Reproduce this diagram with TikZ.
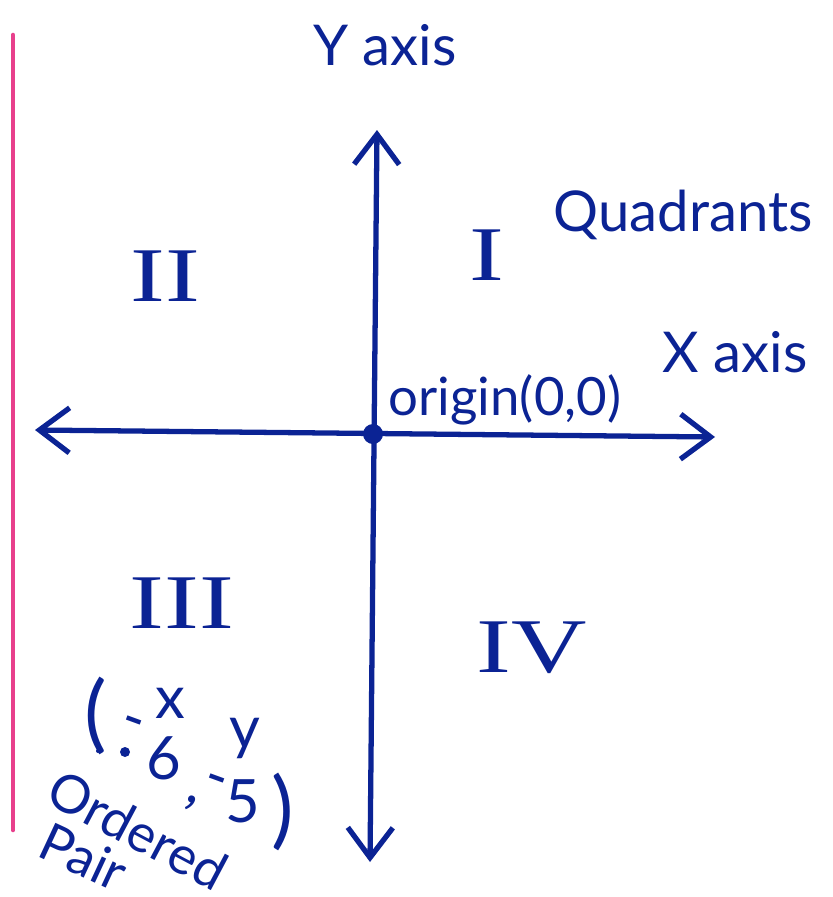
\documentclass[tikz,border=0pt]{standalone}
\usepackage{fontspec}
\setmainfont{Lato}
\setsansfont{Lato}
\newfontfamily\romanfont{Liberation Serif}
\usetikzlibrary{arrows.meta, positioning}
\definecolor{cink}{HTML}{0B2394}
\definecolor{cpink}{HTML}{E8408C}
\tikzset{
  every picture/.style={font=\sffamily, line width=1.5pt},
  ink/.style={text=cink, inner sep=1pt},
  hand/.style={ink, font=\sffamily\fontsize{16}{19}\selectfont},
  quad/.style={ink, xscale=1.35, font=\romanfont\fontsize{22}{26}\selectfont},
  pairtxt/.style={ink, inner sep=0pt, font=\sffamily\fontsize{17}{20}\selectfont},
  axis/.style={draw=cink, line cap=round,
    {Straight Barb[length=3mm, width=4.5mm]}-{Straight Barb[length=3mm, width=4.5mm]}},
}

\begin{document}
\begin{tikzpicture}[x=0.01cm, y=-0.01cm]
  \useasboundingbox (0,0) rectangle (832,897);
  % margin line
  \draw[cpink, line width=1.3pt, line cap=round] (13,35) -- (13,830);
  % axes
  \coordinate (xl) at (35,430);
  \coordinate (xr) at (715,437);
  \coordinate (yt) at (377,130);
  \coordinate (yb) at (370,862);
  \node[circle, fill=cink, minimum size=0.2cm, inner sep=0pt] (o) at (373,434) {};
  \draw[axis] (xl) -- (xr);
  \draw[axis] (yb) -- (yt);
  % labels
  \node[hand] (ylab) at (385,45) {Y axis};
  \node[hand] (xlab) at (735,352) {X axis};
  \node[hand] (quads) at (683,215) {Quadrants};
  \node[hand, font=\sffamily\fontsize{15}{18}\selectfont] (orig) at (505,400) {origin(0,0)};
  % quadrants
  \node[quad] (q1) at (487,255) {I};
  \node[quad] (q2) at (165,276) {II};
  \node[quad] (q3) at (182,603) {III};
  \node[quad] (q4) at (532,648) {IV};
  % ordered pair
  \node[pairtxt, font=\sffamily\fontsize{24}{28}\selectfont] (lp) at (96,716) {(};
  \node[pairtxt] (px) at (170,703) {x};
  \node[pairtxt] (py) at (245,738) {y};
  \node[pairtxt, rotate=-20] (m6) at (131,728) {-};
  \fill[cink] (125,752) circle (5);
  \fill[cink] (98,751) circle (2);
  \node[pairtxt] (six) at (164,758) {6};
  \node[pairtxt, rotate=-20] (cm) at (191,803) {,};
  \node[pairtxt, rotate=-20] (m5) at (214,786) {-};
  \node[pairtxt] (five) at (243,801) {5};
  \node[pairtxt, font=\sffamily\fontsize{24}{28}\selectfont] (rp) at (283,812) {)};
  \node[pairtxt, font=\sffamily\fontsize{15}{18}\selectfont, rotate=-28] (ord) at (138,830) {Ordered};
  \node[pairtxt, font=\sffamily\fontsize{15}{18}\selectfont, rotate=-25] (pr) at (84,857) {Pair};
\end{tikzpicture}
\end{document}
